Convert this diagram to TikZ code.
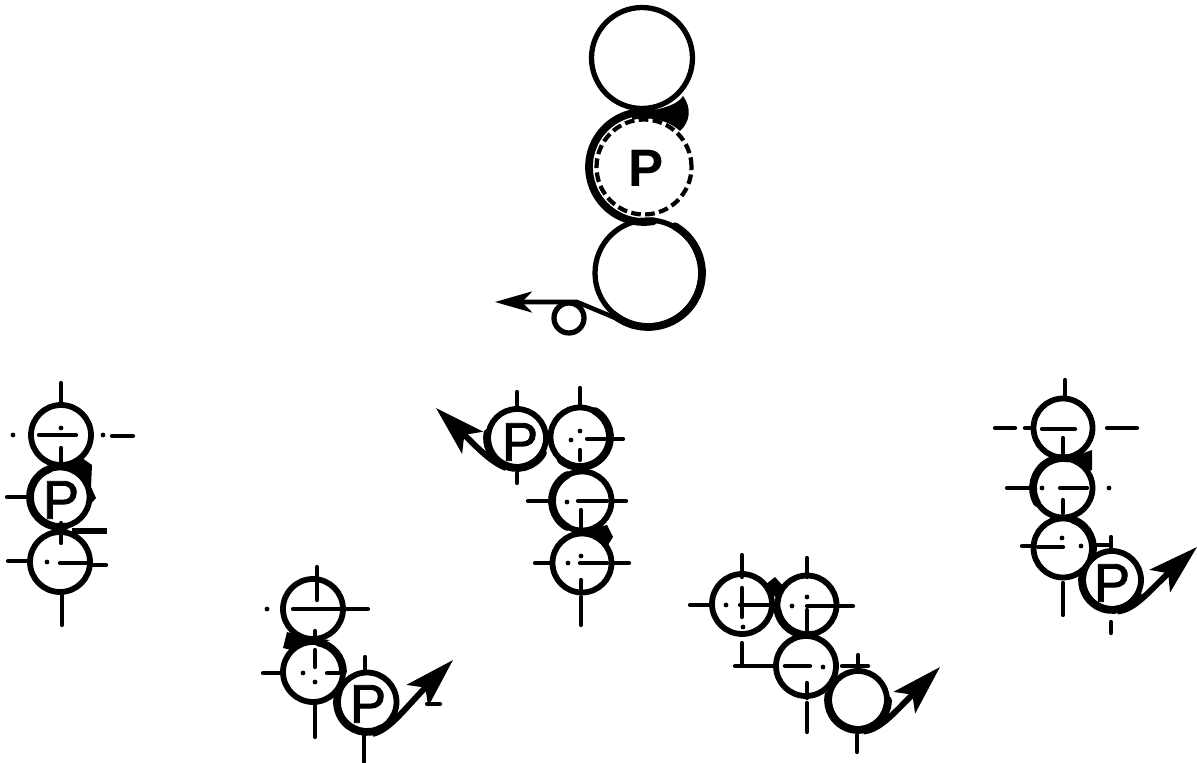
\documentclass[tikz,border=0pt]{standalone}
\usepackage{fontspec}
\setmainfont{Liberation Sans}
\newfontfamily\pressfont[FakeBold=1.6]{Liberation Sans}
\usetikzlibrary{arrows.meta}
\tikzset{
    roll_big/.style={circle, draw=black, fill=white, line width=3pt, inner sep=0pt},
    roll_small/.style={roll_big, line width=3.3pt},
    roll_dashed/.style={roll_big, dash pattern=on 5.5pt off 2.5pt, line width=2.4pt, fill=none},
    roll_label/.style={font=\fontsize{31}{31}\pressfont, inner sep=0pt},
    heavy_arc/.style={draw=black, line width=4.4pt, line cap=round},
    tick_line/.style={draw=black, line width=2.4pt, line cap=round},
    tick_dot/.style={fill=black},
    web_arrow/.style={-{Stealth[length=1cm, width=0.6cm, inset=0.22cm]}, draw=black, line width=3.4pt},
    web_arrow_top/.style={-{Stealth[length=0.74cm, width=0.42cm, inset=0.2cm]}, draw=black, line width=2.6pt}
}
\begin{document}
\begin{tikzpicture}[x=0.02cm, y=-0.02cm]
\useasboundingbox (0,0) rectangle (1197,763);

% threading wedges
\fill (632,114) .. controls (660,110) and (678,105) .. (683,96) .. controls (692,108) and (690,122) .. (680,131) .. controls (668,120) and (650,116) .. (632,120) -- cycle;
\fill (60,466) -- (82,458) -- (92,465) -- (91,487) -- (96,498) -- (88,507) -- (80,490) -- cycle;
\fill (287,632) -- (283,648) -- (300,652) -- (330,640) -- (310,638) -- cycle;
\fill (585,530) -- (607,525) -- (613,537) -- (608,545) -- (590,535) -- cycle;
\fill (765,585) -- (775,577) -- (784,587) -- (778,600) -- cycle;
\fill (1070,458) -- (1092,450) -- (1092,470) -- (1085,472) -- cycle;

% main view
\node[roll_big, minimum size=2.02cm] (top_upper) at (642,58) {};
\node[roll_big, minimum size=2.12cm] (top_lower) at (648,273) {};
\node[roll_dashed, minimum size=1.9cm] (top_press) at (644,167) {};
\node[font=\fontsize{30}{30}\bfseries\selectfont, inner sep=0pt] (top_label) at (646,168) {P};
\node[roll_big, minimum size=0.6cm] (top_guide) at (569,318) {};
\coordinate (top_tip) at (495,302);
\draw[web_arrow_top] (top_lower.255) -- (613,317) -- (577,302) -- (top_tip);

% view 1
\node[roll_small, minimum size=1.2cm] (a_upper) at (61,435) {};
\node[roll_small, minimum size=1.18cm] (a_press) at (60,497) {};
\node[roll_small, minimum size=1.2cm] (a_lower) at (60,562) {};
\node[roll_label] (a_label) at (61,500) {P};

% view 2
\node[roll_small, minimum size=1.2cm] (b_upper) at (313,609) {};
\node[roll_small, minimum size=1.2cm] (b_middle) at (313,672) {};
\node[roll_small, minimum size=1.18cm] (b_press) at (367,702) {};
\node[roll_label] (b_label) at (368,704) {P};
\coordinate (b_tip) at (453,660);
\draw[web_arrow] (b_press.280) .. controls (390,730) and (405,708) .. (b_tip);

% view 3
\node[roll_small, minimum size=1.16cm] (c_press) at (517,438) {};
\node[roll_small, minimum size=1.18cm] (c_upper) at (580,437) {};
\node[roll_small, minimum size=1.18cm] (c_middle) at (582,501) {};
\node[roll_small, minimum size=1.18cm] (c_lower) at (582,563) {};
\node[roll_label] (c_label) at (520,442) {P};
\coordinate (c_tip) at (436,408);
\draw[web_arrow] (c_press.250) .. controls (490,462) and (475,445) .. (c_tip);

% view 4
\node[roll_small, minimum size=1.2cm] (d_left) at (742,604) {};
\node[roll_small, minimum size=1.18cm] (d_right) at (807,605) {};
\node[roll_small, minimum size=1.2cm] (d_middle) at (806,666) {};
\node[roll_small, minimum size=1.16cm] (d_press) at (858,700) {};
\coordinate (d_tip) at (940,667);
\draw[web_arrow] (d_press.280) .. controls (880,730) and (895,712) .. (d_tip);

% view 5
\node[roll_small, minimum size=1.18cm] (e_upper) at (1063,428) {};
\node[roll_small, minimum size=1.18cm] (e_middle) at (1063,488) {};
\node[roll_small, minimum size=1.18cm] (e_lower) at (1063,548) {};
\node[roll_small, minimum size=1.16cm] (e_press) at (1112,580) {};
\node[roll_label] (e_label) at (1112,583) {P};
\coordinate (e_tip) at (1197,547);
\draw[web_arrow] (e_press.280) .. controls (1135,610) and (1150,590) .. (e_tip);

% heavier parts of the circles
\foreach \nm/\rc/\sa/\ea in {
    top_press/55/80/285, top_lower/54/-60/130,
    a_press/30/80/250,
    b_middle/30/-80/0, b_press/30/60/200,
    c_press/30/30/190, c_upper/30/-60/130, c_middle/30/120/240,
    d_right/30/80/170, d_press/30/0/190,
    e_middle/30/150/280, e_lower/30/-70/20, e_press/30/30/190} {
    \draw[heavy_arc] ([shift={(\sa:\rc)}]\nm.center) arc[start angle=\sa, end angle=\ea, radius=\rc];
}

% marks round the rolls
\foreach \xa/\ya/\xb/\yb in {
    61/383/61/405, 39/435/76/435, 112/436/133/436, 61/448/61/463,
    7/497/28/497, 61/523/61/543,
    8/561/27/561, 92/565/106/565, 60/563/88/563, 62/593/62/625,
    317/567/317/587, 317/587/317/600, 293/609/333/609, 335/609/368/609, 315/631/315/642,
    263/673/283/673, 327/673/340/673, 315/650/315/667, 315/703/315/737,
    365/657/365/673, 364/733/364/762, 427/704/440/704,
    517/392/517/410, 517/473/517/483,
    580/388/580/407, 587/439/605/439, 612/439/623/439, 580/450/580/460,
    528/501/550/501, 578/501/607/501, 613/501/626/501, 581/510/581/530,
    535/563/552/563, 613/563/629/563, 580/563/607/563, 581/580/581/590, 581/597/581/625,
    742/555/742/577, 690/605/710/605, 740/605/770/605, 742/588/742/617, 742/643/742/666, 735/666/773/666,
    807/558/807/577, 838/606/853/606, 807/606/838/606, 807/610/807/630,
    785/666/810/666, 842/666/868/666, 807/683/807/698, 807/703/807/732,
    858/655/858/672, 857/735/857/752,
    1065/380/1065/398, 995/428/1015/428, 1025/428/1030/428, 1042/429/1075/429, 1107/428/1137/428, 1063/438/1063/453,
    1007/488/1030/488, 1060/488/1087/488, 1063/500/1063/513,
    1022/546/1030/546, 1038/547/1063/547, 1095/545/1110/545, 1063/583/1063/615,
    1111/537/1111/552, 1111/622/1111/633} {
    \draw[tick_line] (\xa,\ya) -- (\xb,\yb);
}
\draw[tick_line, line width=3.4pt, line cap=butt] (72,531) -- (107,531);

\foreach \xa/\ya in {
    61/428, 13/435, 103/435, 47/562, 267/609,
    303/673, 315/682,
    580/431, 571/440, 567/502, 581/556, 568/563,
    726/605, 743/627, 807/597, 792/606, 823/667,
    1042/488, 1109/488, 1062/538, 1081/546} {
    \fill[tick_dot] (\xa,\ya) circle[radius=2.4];
}

\end{tikzpicture}
\end{document}
